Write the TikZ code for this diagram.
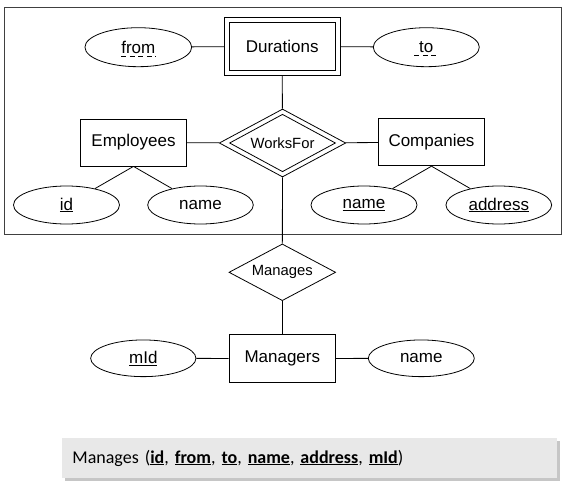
\documentclass[tikz,border=0pt]{standalone}
\usepackage{fontspec}
\setmainfont{Liberation Sans}
\newfontfamily\calibrifont{Carlito}
\usetikzlibrary{shapes.geometric,shadows}
\begin{document}
\begin{tikzpicture}[x=1pt,y=-1pt,
  ent/.style={draw, rectangle, minimum width=106pt, minimum height=47pt, inner sep=0pt, font=\fontsize{17}{19}\selectfont},
  attr/.style={draw, ellipse, minimum width=106pt, minimum height=38pt, inner sep=0pt, font=\fontsize{17}{19}\selectfont},
  rel/.style={draw, diamond, aspect=2, inner sep=0pt, font=\fontsize{14.8}{16}\selectfont},
  conn/.style={draw, line width=0.8pt},
  dunder/.style={dashed, dash pattern=on 5pt off 3.5pt, line width=0.7pt},
  every node/.append style={line width=0.8pt}]
\useasboundingbox (0,0) rectangle (568,487);
% aggregation box
\draw[black!75, line width=1pt] (4,8) rectangle (561.7,234);
% Durations (weak entity)
\node[ent, minimum width=116pt, minimum height=58pt] (dur) at (282.2,46.3) {};
\node[ent, minimum width=106pt, minimum height=48pt] (durin) at (282.2,46.3) {Durations};
\node[attr, minimum width=106.7pt, minimum height=39pt] (from) at (138.3,47.2) {from};
\node[attr, minimum height=39pt] (to) at (426.3,47.2) {to};
\draw[dunder] ([xshift=-17pt,yshift=-3pt]from.base) -- ([xshift=17.5pt,yshift=-3pt]from.base);
\draw[dunder] ([xshift=-12pt,yshift=-3pt]to.base) -- ([xshift=12pt,yshift=-3pt]to.base);
% WorksFor
\node[rel, minimum width=126.5pt, minimum height=68pt] (wf) at (282.5,143) {};
\node[rel, minimum width=106pt, minimum height=57.5pt] (wfin) at (282.5,143) {WorksFor};
\node[ent] (emp) at (133.5,142.5) {Employees};
\node[ent] (comp) at (431.5,142.3) {Companies};
\node[attr] (id) at (66.5,205) {\underline{id}};
\node[attr, minimum width=105.6pt] (ename) at (200.5,205) {name};
\node[attr] (cname) at (364,205) {\underline{name}};
\node[attr, minimum width=105.7pt] (addr) at (498.8,205) {\underline{address}};
% Manages
\node[rel, minimum width=106.7pt, minimum height=56.7pt] (man) at (282.3,272.3) {Manages};
\node[ent, minimum width=106.7pt, minimum height=48.3pt] (mgr) at (282.3,358.5) {Managers};
\node[attr, minimum width=105.3pt, minimum height=36.7pt] (mid) at (143.3,358.3) {\underline{mId}};
\node[attr, minimum height=36.7pt] (mname) at (421.3,358.3) {name};
% connectors
\draw[conn] (from) -- (dur);
\draw[conn] (dur) -- (to);
\draw[conn] (dur) -- (wf);
\draw[conn] (emp) -- (wf);
\draw[conn] (wf) -- (comp);
\draw[conn] (emp.south) -- (id);
\draw[conn] (emp.south) -- (ename);
\draw[conn] (comp.south) -- (cname);
\draw[conn] (comp.south) -- (addr);
\draw[conn] (wf) -- (man);
\draw[conn] (man) -- (mgr);
\draw[conn] (mid) -- (mgr);
\draw[conn] (mgr) -- (mname);
% relation schema box
\node[draw=none, fill=black!9, drop shadow={shadow xshift=2.5pt, shadow yshift=-2.5pt, opacity=0.45},
  minimum width=495pt, minimum height=40pt, inner sep=0pt, anchor=west,
  font=\calibrifont\fontsize{18}{20}\selectfont, text width=485pt, align=left] (schema) at (62,458)
  {\hspace*{5pt}Manages (\textbf{\underline{id}}, \textbf{\underline{from}}, \textbf{\underline{to}}, \textbf{\underline{name}}, \textbf{\underline{address}}, \textbf{\underline{mId}})};
\end{tikzpicture}
\end{document}
